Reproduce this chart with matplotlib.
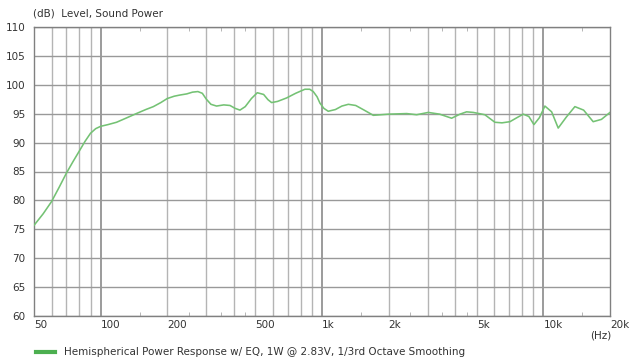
import numpy as np
from matplotlib import pyplot as plt
from matplotlib.ticker import NullFormatter

# curve (Hz, dB)
freq = [50, 55, 60, 65, 70, 75, 80, 85, 90, 95, 100, 108, 118, 130, 145, 160, 173, 187,
        200, 215, 228, 245, 260, 275, 288, 300, 315, 334, 360, 384, 405, 426, 450, 480,
        510, 545, 570, 592, 630, 692, 760, 837, 880, 913, 950, 979, 1020, 1067, 1150,
        1230, 1315, 1420, 1550, 1705, 2000, 2413, 2676, 3020, 3400, 3851, 4200, 4498,
        4823, 5442, 6040, 6500, 7063, 7600, 8112, 8600, 9066, 9600, 10160, 10900,
        11670, 12700, 13880, 15200, 16790, 18300, 20000]
level = [75.7, 77.7, 79.8, 82.3, 84.7, 86.7, 88.5, 90.2, 91.6, 92.4, 92.8, 93.1, 93.5,
         94.2, 95.0, 95.7, 96.2, 96.9, 97.6, 98.0, 98.2, 98.4, 98.7, 98.8, 98.5, 97.5,
         96.6, 96.3, 96.5, 96.4, 95.9, 95.6, 96.2, 97.6, 98.6, 98.3, 97.4, 96.9, 97.1,
         97.7, 98.5, 99.2, 99.2, 98.8, 97.9, 96.8, 95.9, 95.4, 95.7, 96.3, 96.6, 96.4,
         95.6, 94.7, 94.9, 95.0, 94.8, 95.2, 94.9, 94.2, 94.9, 95.3, 95.2, 94.8, 93.5,
         93.4, 93.6, 94.3, 94.9, 94.5, 93.1, 94.3, 96.3, 95.3, 92.5, 94.4, 96.2, 95.6,
         93.6, 94.0, 95.2]

y_ticks = list(range(60, 115, 5))
x_label_freqs = [50, 100, 200, 500, 1000, 2000, 5000, 10000, 20000]
x_labels = ["50", "100", "200", "500", "1k", "2k", "5k", "10k", "20k"]
minor_grid = [60, 70, 80, 90, 200, 300, 400, 500, 600, 700, 800, 900,
              2000, 3000, 4000, 5000, 6000, 7000, 8000, 9000]
major_grid = [100, 1000, 10000]
half_ticks = [150, 250, 350, 450, 1500, 2500, 3500, 4500, 15000]

plt.rcParams['font.family'] = 'DejaVu Sans'
plt.rcParams['font.size'] = 7.5

fig = plt.figure(figsize=(6.3, 3.63), dpi=100)
W, H = 630, 363
ax = fig.add_axes([34 / W, 1 - 316.3 / H, (610 - 34) / W, (316.3 - 26.7) / H])

ax.set_xscale('log')
ax.set_xlim(50, 20000)
ax.set_ylim(60, 110)

for f in minor_grid:
    ax.axvline(f, color='#b4b4b4', lw=1.0, zorder=1)
for f in major_grid:
    ax.axvline(f, color='#8a8a8a', lw=1.2, zorder=1)
for v in y_ticks:
    ax.axhline(v, color='#999999', lw=1.0, zorder=1)

ax.plot(freq, level, color='#74c274', lw=1.15, zorder=3)

ax.set_xticks(x_label_freqs)
ax.set_xticklabels(x_labels)
ax.set_xticks(half_ticks, minor=True)
ax.xaxis.set_minor_formatter(NullFormatter())
ax.set_yticks(y_ticks)
ax.tick_params(which='major', length=0, pad=3, labelcolor='#333333')
ax.tick_params(axis='y', pad=6)
ax.tick_params(which='minor', direction='in', length=3, color='#aaaaaa',
               top=True, bottom=True)
for lab in ax.get_xticklabels():
    lab.set_ha('left')

for s in ax.spines.values():
    s.set_color('#808080')
    s.set_linewidth(1.0)

fig.text(33 / W, 1 - 13 / H, "(dB)  Level, Sound Power", ha='left', va='center',
         color='#333333')
fig.text(590 / W, 1 - 336 / H, "(Hz)", ha='left', va='center', color='#333333')

# legend
fig.lines.append(plt.Line2D([36 / W, 55 / W], [1 - 352 / H, 1 - 352 / H],
                            transform=fig.transFigure, color='#4caf50', lw=3))
fig.text(64 / W, 1 - 352 / H,
         "Hemispherical Power Response w/ EQ, 1W @ 2.83V, 1/3rd Octave Smoothing",
         ha='left', va='center', color='#333333')

fig.savefig('out.png', dpi=100)
